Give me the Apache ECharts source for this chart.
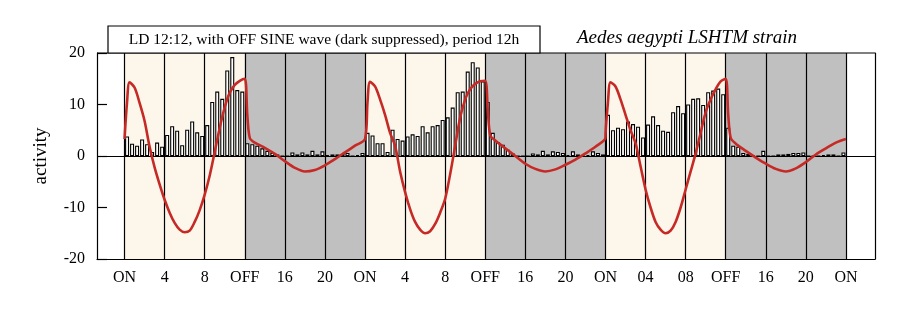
<!DOCTYPE html>
<html>
<head>
<meta charset="utf-8">
<script src="https://cdn.jsdelivr.net/npm/echarts@6/dist/echarts.min.js"></script>
<style>html,body{margin:0;padding:0;background:#fff}#c{width:900px;height:320px}</style>
</head>
<body>
<div id="c"></div>
<script>
// ---- data ----
var tickHours = [0,4,8,12,16,20,24,28,32,36,40,44,48,52,56,60,64,68,72];
var tickLabels = ['ON','4','8','OFF','16','20','ON','4','8','OFF','16','20','ON','04','08','OFF','16','20','ON'];
var lightStarts = [0,24,48];
var darkStarts = [12,36,60];
var binHours = 0.5;
// activity per 30-min bin, light phase (12 h each)
var light1 = [3.8,2.4,2.0,3.2,2.3,0.8,2.6,1.8, 4.1,5.8,4.9,2.1,5.1,6.7,4.6,3.9, 6.0,10.5,12.5,11.1,16.6,19.2,12.8,12.5];
var light2 = [4.5,4.0,2.5,2.5,0.8,5.1,3.3,3.0, 3.8,4.2,3.9,5.8,4.6,5.8,6.0,7.0, 7.5,9.4,12.4,12.5,16.4,18.2,17.2,14.5];
var light3 = [8.0,5.0,5.5,5.2,6.7,6.2,5.7,3.6, 6.1,7.7,6.0,4.9,4.7,8.5,9.7,8.3, 10.0,11.1,11.2,9.9,12.4,12.7,13.1,12.0];
// activity per 30-min bin, dark phase
var dark1 = [2.5,2.3,2.0,1.5,1.0,0.6,0.3,0,0,0.7,0.3,0.7,0.3,1.0,0.3,0.9,0.2,0.3,0.3,0.4,0.6,0,0.2,0.6];
var dark2 = [10.5,4.5,2.7,2.2,1.2,0.5,0,0,0,0.5,0.3,1.0,0.3,0.9,0.8,0.6,0.2,0.9,0.3,0,0.2,0.9,0.6,0.3];
var dark3 = [5.5,2.0,1.8,0.6,0.4,0.2,0,1.0,0,0,0.3,0.3,0.4,0.6,0.6,0.7,0,0,0,0.2,0.3,0.3,0,0.7];
// fitted OFF sine wave (red), hours relative to each day's ON
var redRelHours = [0,0.25,0.5,1,1.5,2,2.5,3,3.5,4,4.5,5,5.5,6,6.5,7,7.5,8,8.5,9,9.5,10,10.5,11,11.5,12,12.25,12.5,13,14,15,16,17,18,19,20,21,22,23,24];
var red1 = [3.3,10.5,14.3,13.3,10.3,6.8,1.8,-2.2,-5.5,-8.5,-11.0,-13.0,-14.3,-14.8,-14.5,-12.8,-10.5,-7.5,-3.8,0.8,5.5,9.5,12.3,13.8,14.6,15.0,8.0,3.5,2.6,1.6,0.4,-1.0,-2.3,-3.0,-2.7,-1.8,-0.6,0.7,2.0,3.3];
var red2 = [3.3,10.5,14.4,13.5,11.0,8.0,4.5,2.0,-3.0,-7.0,-10.3,-12.8,-14.3,-15.0,-14.6,-13.2,-11.0,-8.3,-3.5,2.0,7.5,11.0,13.0,14.0,14.5,14.6,9.0,4.0,3.0,1.5,0,-1.5,-2.5,-3.0,-2.6,-1.7,-0.7,0.5,1.8,3.5];
var red3 = [3.6,10.5,14.3,13.5,11.0,8.0,5.0,2.5,-2.0,-6.5,-10.0,-12.8,-14.3,-15.0,-14.5,-12.8,-10.0,-6.5,-3.0,0.5,4.5,8.5,11.0,13.0,14.5,15.0,8.0,3.5,2.4,1.0,-0.3,-1.5,-2.5,-3.0,-2.4,-1.2,0.3,1.5,2.6,3.3];
var titleText = 'LD 12:12, with OFF SINE wave (dark suppressed), period 12h';
var strainText = 'Aedes aegypti LSHTM strain';

// ---- build ----
function bins(start, vals){ return vals.map(function(v,i){ return [start + i*binHours + binHours/2, v]; }); }
var barData = [].concat(
  bins(lightStarts[0], light1), bins(darkStarts[0], dark1),
  bins(lightStarts[1], light2), bins(darkStarts[1], dark2),
  bins(lightStarts[2], light3), bins(darkStarts[2], dark3));
var redData = [];
[red1, red2, red3].forEach(function(vals, d){
  vals.forEach(function(v,i){ redData.push([lightStarts[d] + redRelHours[i], v]); });
});
var bandAreas = [];
lightStarts.forEach(function(s){ bandAreas.push([{xAxis:s, itemStyle:{color:'#fcf7ea'}},{xAxis:s+12}]); });
darkStarts.forEach(function(s){ bandAreas.push([{xAxis:s, itemStyle:{color:'#c0c0c0'}},{xAxis:s+12}]); });
var vLines = tickHours.map(function(h){ return {xAxis:h}; });
vLines.push({yAxis:0});

var FONT = 'Liberation Serif';
var chart = echarts.init(document.getElementById('c'), null, {renderer:'canvas'});
chart.setOption({
  animation:false,
  backgroundColor:'#fff',
  grid:{left:97, right:25, top:53, bottom:61, show:false},
  xAxis:{type:'value', min:-2.75, max:74.9, z:10,
    axisLine:{show:true, onZero:false, lineStyle:{color:'#000', width:1.2}},
    axisTick:{show:false},
    splitLine:{show:false},
    axisLabel:{customValues:tickHours, margin:11, color:'#000', fontFamily:FONT, fontSize:16,
      formatter:function(v){ var i = tickHours.indexOf(v); return i>=0 ? tickLabels[i] : ''; }}
  },
  yAxis:[{type:'value', min:-20, max:20, interval:10, z:10,
    name:'activity', nameLocation:'middle', nameGap:46,
    nameTextStyle:{color:'#000', fontFamily:FONT, fontSize:19},
    axisLine:{show:true, onZero:false, lineStyle:{color:'#000', width:1.2}},
    axisTick:{show:true, inside:true, length:10, lineStyle:{color:'#000', width:1.2}},
    splitLine:{show:false},
    axisLabel:{margin:12, color:'#000', fontFamily:FONT, fontSize:16}
  },{type:'value', min:-20, max:20, position:'right', z:10,
    axisLine:{show:true, onZero:false, lineStyle:{color:'#000', width:1.2}},
    axisTick:{show:false}, axisLabel:{show:false}, splitLine:{show:false}}],
  graphic:[
    {type:'rect', z:20, shape:{x:108, y:26, width:432, height:27}, style:{fill:'#fff', stroke:'#000', lineWidth:1.2}},
    {type:'text', z:21, x:324, y:40, style:{text:titleText, fill:'#000', font:'15.5px "Liberation Serif"', align:'center', verticalAlign:'middle'}},
    {type:'text', z:21, x:577, y:38, style:{text:strainText, fill:'#000', font:'italic 19px "Liberation Serif"', align:'left', verticalAlign:'middle'}},
    {type:'line', z:19, shape:{x1:97, y1:53, x2:875, y2:53}, style:{stroke:'#000', lineWidth:1.2}}
  ],
  series:[
    {type:'line', data:[], z:1, silent:true,
      markArea:{silent:true, data:bandAreas},
      markLine:{silent:true, symbol:'none', label:{show:false}, lineStyle:{color:'#000', width:1.2, type:'solid'}, data:vLines}
    },
    {type:'bar', data:barData, barWidth:4, z:3, silent:true,
      itemStyle:{color:'#fff', borderColor:'#000', borderWidth:1.1}},
    {type:'line', data:redData, z:5, showSymbol:false, smooth:0.3, silent:true,
      lineStyle:{color:'#c62a26', width:2.6}}
  ]
});
</script>
</body>
</html>
